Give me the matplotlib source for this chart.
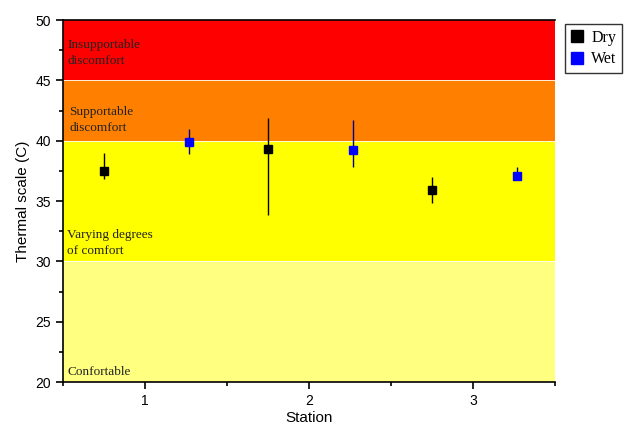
import numpy as np
import matplotlib
matplotlib.use("Agg")
import matplotlib.pyplot as plt
from matplotlib.ticker import MultipleLocator

# 数据
stations = [1, 2, 3]
dry_mean = [37.5, 39.3, 35.9]
dry_err_low = [0.7, 5.5, 1.05]
dry_err_high = [1.45, 2.55, 1.05]
wet_mean = [39.9, 39.2, 37.1]
wet_err_low = [1.0, 1.35, 0.3]
wet_err_high = [1.05, 2.55, 0.75]

band_edges = [20, 30, 40, 45, 50]
band_colors = ['#FFFF80', '#FFFF00', '#FF8000', '#FF0000']
band_labels = ['Confortable', 'Varying degrees\nof comfort',
               'Supportable\ndiscomfort', 'Insupportable\ndiscomfort']
band_label_x = [0.525, 0.525, 0.54, 0.525]
band_label_y = [20.85, 31.5, 41.7, 47.25]

fig = plt.figure(figsize=(6.28, 4.29), dpi=100)
ax = fig.add_axes([63/628, 1 - 382/429, (555-63)/628, (382-20)/429])

# 背景色带
for i in range(4):
    ax.axhspan(band_edges[i], band_edges[i+1], color=band_colors[i], zorder=0, lw=0)
    if i > 0:
        ax.axhline(band_edges[i], color='white', lw=0.6, zorder=1)
    ax.text(band_label_x[i], band_label_y[i], band_labels[i], fontsize=9.5,
            family='Liberation Serif', color='#222222', va='center', ha='left',
            linespacing=1.5, zorder=2)

x = np.array(stations, dtype=float)
ax.errorbar(x - 0.25, dry_mean, yerr=[dry_err_low, dry_err_high], fmt='s',
            color='black', ms=6, elinewidth=1, capsize=0, label='Dry', zorder=3)
ax.errorbar(x + 0.27, wet_mean, yerr=[wet_err_low, wet_err_high], fmt='s',
            color='blue', ecolor='#000080', ms=6, elinewidth=1, capsize=0,
            label='Wet', zorder=3)

ax.set_xlim(0.5, 3.5)
ax.set_ylim(20, 50)
ax.set_xticks(stations)
ax.yaxis.set_major_locator(MultipleLocator(5))
ax.yaxis.set_minor_locator(MultipleLocator(2.5))
ax.xaxis.set_minor_locator(MultipleLocator(0.5))
ax.tick_params(which='both', direction='out', width=1.2, labelsize=10)
ax.tick_params(which='major', length=5)
ax.tick_params(which='minor', length=3)
ax.spines['right'].set_visible(False)
for s in ['left', 'bottom', 'top']:
    ax.spines[s].set_linewidth(1.2)

for lbl in ax.get_xticklabels() + ax.get_yticklabels():
    lbl.set_family('Liberation Sans')
ax.set_xlabel('Station', fontsize=11, family='Liberation Sans', labelpad=2)
ax.set_ylabel('Thermal scale (C)', fontsize=11, family='Liberation Sans', labelpad=4)

handles, labels = ax.get_legend_handles_labels()
handles = [h[0] for h in handles]
leg = fig.legend(handles, labels, loc='upper left', bbox_to_anchor=(565/628, 1 - 24/429),
                 prop={'family': 'Liberation Serif', 'size': 11.5}, frameon=True,
                 fancybox=False, edgecolor='black', handlelength=0.8,
                 handletextpad=0.5, borderpad=0.35, labelspacing=0.35,
                 markerscale=1.4, borderaxespad=0)
leg.get_frame().set_linewidth(1.0)

fig.savefig('out.png', dpi=100)
